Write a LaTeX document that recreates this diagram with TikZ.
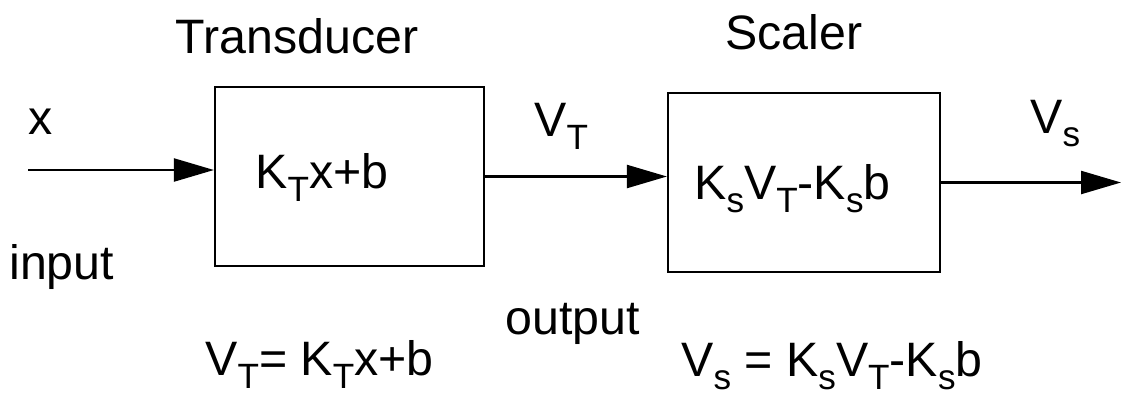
\documentclass[tikz,border=0pt]{standalone}
\usepackage{fontspec}
\setmainfont{Liberation Sans}
\usetikzlibrary{positioning, arrows.meta}

\newcommand{\sbs}[1]{\raisebox{-0.28em}{\fontsize{20}{23}\selectfont #1}}

\begin{document}
\begin{tikzpicture}[
        x=0.02cm, y=-0.02cm,
        font=\fontsize{27.5}{32}\selectfont,
        block/.style={
            rectangle,
            draw,
            line width=1.3pt,
            minimum width=5.38cm,
            minimum height=3.58cm
        },
        txt/.style={
            inner sep=0pt,
            anchor=base west
        },
        arrow/.style={
            -{Triangle[length=0.8cm, width=0.46cm]},
            line width=1.3pt
        }
    ]
    \useasboundingbox (0,0) rectangle (1124,396);

    % --------------------------------------------------------
    % Blocks
    % --------------------------------------------------------

    \node[block] (transducer) at (349.5,176.5) {};

    \node[block, minimum width=5.44cm] (scaler) at (804,182.5) {};

    % block contents
    \node[txt] (tfun) at (255,188) {K\sbs{T}x+b};

    \node[txt] (sfun) at (694,199) {K\sbs{s}V\sbs{T}-K\sbs{s}b};

    % titles
    \node[txt, anchor=base] (ttitle) at (297,53) {Transducer};

    \node[txt, anchor=base] (stitle) at (794,49) {Scaler};

    % --------------------------------------------------------
    % Signal labels
    % --------------------------------------------------------

    \node[txt] (xlab) at (28,134) {x};
    \node[txt] (inlab) at (9,279) {input};

    \node[txt] (vtlab) at (534,136) {V\sbs{T}};
    \node[txt] (outlab) at (505,334) {output};

    \node[txt] (vslab) at (1030,133) {V\sbs{s}};

    % equations
    \node[txt] (teq) at (205,375) {V\sbs{T}= K\sbs{T}x+b};

    \node[txt] (seq) at (681,376) {V\sbs{s} = K\sbs{s}V\sbs{T}-K\sbs{s}b};

    % --------------------------------------------------------
    % Arrows
    % --------------------------------------------------------

    \coordinate (inStart) at (28,170);
    \coordinate (outEnd) at (1121,182.5);

    % input -> transducer
    \draw[arrow]
        (inStart)
        -- (inStart -| transducer.west);

    % transducer -> scaler
    \draw[arrow]
        (transducer.east)
        -- (transducer.east -| scaler.west);

    % scaler -> output
    \draw[arrow]
        (scaler.east)
        -- (outEnd);

\end{tikzpicture}
\end{document}
